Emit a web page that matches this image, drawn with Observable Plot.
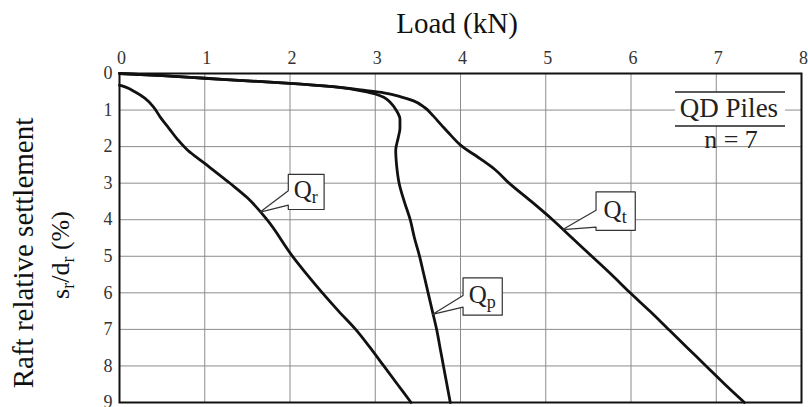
<!DOCTYPE html>
<html>
<head>
<meta charset="utf-8">
<script src="https://cdn.jsdelivr.net/npm/d3@7"></script>
<script src="https://cdn.jsdelivr.net/npm/@observablehq/plot@0.6"></script>
<style>
  body { margin: 0; background: #fff; }
  svg { display: block; }
  #chart svg text { font-family: "Liberation Serif", "DejaVu Serif", "Times New Roman", serif; }
</style>
</head>
<body>
<div id="chart"></div>
<script>
// Axis ticks
const loadTicks = [0, 1, 2, 3, 4, 5, 6, 7, 8];
const settleTicks = [0, 1, 2, 3, 4, 5, 6, 7, 8, 9];

// Total load Qt (kN) vs raft relative settlement sr/dr (%)
const qtLoad   = [0, 0.5, 1.0, 1.5, 2.0, 2.5, 2.9, 3.1, 3.3, 3.45, 3.58, 3.68, 3.78, 3.89, 4.0, 4.23, 4.4, 4.57, 4.83, 5.08, 5.31, 5.54, 5.77, 5.99, 6.22, 6.44, 6.66, 6.88, 7.1, 7.33];
const qtSettle = [0, 0.06, 0.13, 0.2, 0.27, 0.36, 0.47, 0.53, 0.64, 0.75, 0.93, 1.16, 1.42, 1.7, 1.96, 2.33, 2.62, 3.0, 3.5, 4.0, 4.5, 5.0, 5.5, 6.0, 6.5, 7.0, 7.5, 8.0, 8.5, 9.0];

// Pile load Qp
const qpLoad   = [0, 0.5, 1.0, 1.5, 2.0, 2.5, 2.9, 3.0, 3.1, 3.18, 3.25, 3.29, 3.29, 3.27, 3.24, 3.25, 3.28, 3.34, 3.41, 3.46, 3.52, 3.57, 3.62, 3.67, 3.72, 3.76, 3.80, 3.84, 3.88];
const qpSettle = [0, 0.06, 0.13, 0.2, 0.27, 0.36, 0.5, 0.56, 0.65, 0.8, 1.02, 1.25, 1.5, 1.75, 2.1, 2.5, 3.0, 3.5, 4.0, 4.5, 5.0, 5.5, 6.0, 6.5, 7.0, 7.5, 8.0, 8.5, 9.0];

// Raft load Qr
const qrLoad   = [0, 0.08, 0.18, 0.3, 0.4, 0.48, 0.58, 0.68, 0.8, 1.0, 1.3, 1.5, 1.73, 2.03, 2.2, 2.38, 2.57, 2.77, 2.94, 3.10, 3.26, 3.42];
const qrSettle = [0.32, 0.38, 0.5, 0.68, 0.92, 1.2, 1.5, 1.8, 2.1, 2.46, 3.01, 3.4, 4.0, 5.0, 5.5, 6.0, 6.5, 7.0, 7.5, 8.0, 8.5, 9.0];

const curves = [
  {name: "Qt", load: qtLoad, settle: qtSettle},
  {name: "Qp", load: qpLoad, settle: qpSettle},
  {name: "Qr", load: qrLoad, settle: qrSettle}
];
const rows = curves.flatMap(c => c.load.map((v, i) => ({series: c.name, load: v, settle: c.settle[i]})));

// Callout labels: tip on the curve, box extent and tail attachment (data units)
const calloutSub        = ["r", "p", "t"];
const calloutTipLoad    = [1.65, 3.67, 5.20];
const calloutTipSettle  = [3.79, 6.59, 4.27];
const calloutBoxLoad    = [[1.98, 2.40], [4.03, 4.49], [5.59, 6.05]];
const calloutBoxSettle  = [[2.76, 3.72], [5.59, 6.61], [3.24, 4.29]];
const calloutTailSettle = [[3.21, 3.60], [6.07, 6.39], [3.74, 4.20]];

const calloutPaths = calloutSub.flatMap((s, i) => {
  const [x0, x1] = calloutBoxLoad[i];
  const [y0, y1] = calloutBoxSettle[i];
  const [t0, t1] = calloutTailSettle[i];
  return [
    [x0, y0], [x1, y0], [x1, y1], [x0, y1], [x0, t1],
    [calloutTipLoad[i], calloutTipSettle[i]], [x0, t0]
  ].map(([x, y]) => ({id: s, x, y}));
});

const serif = "Liberation Serif, DejaVu Serif, Times New Roman, serif";

const plot = Plot.plot({
  width: 808,
  height: 407,
  marginLeft: 119,
  marginRight: 7,
  marginTop: 73,
  marginBottom: 5,
  style: {fontFamily: serif, background: "#fff"},
  x: {domain: [0, 8], label: null},
  y: {domain: [0, 9], reverse: true, label: null},
  marks: [
    Plot.gridX(loadTicks, {stroke: "#8c8c8c", strokeOpacity: 1, strokeWidth: 1}),
    Plot.gridY(settleTicks, {stroke: "#8c8c8c", strokeOpacity: 1, strokeWidth: 1}),
    Plot.axisX(loadTicks, {anchor: "top", tickSize: 0, tickPadding: 10, fontSize: 18, fill: "#333", dx: 2, label: null}),
    Plot.axisY(settleTicks, {anchor: "left", tickSize: 0, tickPadding: 7, fontSize: 18, fill: "#333", label: null}),
    Plot.line(rows, {x: "load", y: "settle", z: "series", stroke: "#111", strokeWidth: 2.8, strokeLinejoin: "round", curve: "monotone-y"}),
    Plot.line(calloutPaths, {x: "x", y: "y", z: "id", curve: "linear-closed", fill: "#fff", stroke: "#333", strokeWidth: 1.2}),
    Plot.frame({stroke: "#111", strokeWidth: 2})
  ]
});

const svg = d3.select(plot);
const sx = plot.scale("x"), sy = plot.scale("y");

// Callout text: Q with a subscript
calloutSub.forEach((s, i) => {
  const cx = sx.apply((calloutBoxLoad[i][0] + calloutBoxLoad[i][1]) / 2);
  const cy = sy.apply((calloutBoxSettle[i][0] + calloutBoxSettle[i][1]) / 2);
  const t = svg.append("text")
    .attr("x", cx).attr("y", cy + 7)
    .attr("text-anchor", "middle")
    .attr("font-size", 25).attr("fill", "#222");
  t.append("tspan").text("Q");
  t.append("tspan").attr("font-size", 18).attr("dy", 5).text(s);
});

// Title above the top axis
svg.append("text")
  .attr("x", 457).attr("y", 33)
  .attr("text-anchor", "middle")
  .attr("font-size", 29).attr("fill", "#111")
  .text("Load (kN)");

// Vertical axis title, two lines
svg.append("text")
  .attr("transform", "translate(33,253) rotate(-90)")
  .attr("text-anchor", "middle")
  .attr("font-size", 29).attr("fill", "#111")
  .text("Raft relative settlement");

const yl = svg.append("text")
  .attr("transform", "translate(69,255) rotate(-90)")
  .attr("text-anchor", "middle")
  .attr("font-size", 26).attr("fill", "#111");
yl.append("tspan").text("s");
yl.append("tspan").attr("font-size", 18).attr("dy", 5).text("r");
yl.append("tspan").attr("dy", -5).text("/d");
yl.append("tspan").attr("font-size", 18).attr("dy", 5).text("r");
yl.append("tspan").attr("dy", -5).text(" (%)");

// Legend block in the top-right corner of the frame
const lg = svg.append("g");
lg.append("rect").attr("x", 675).attr("y", 92).attr("width", 110).attr("height", 34).attr("fill", "#fff");
lg.append("line").attr("x1", 675).attr("x2", 785).attr("y1", 92).attr("y2", 92).attr("stroke", "#222").attr("stroke-width", 1.5);
lg.append("line").attr("x1", 675).attr("x2", 785).attr("y1", 126).attr("y2", 126).attr("stroke", "#222").attr("stroke-width", 1.5);
lg.append("text").attr("x", 729).attr("y", 117).attr("text-anchor", "middle")
  .attr("font-size", 27).attr("fill", "#222").text("QD Piles");
lg.append("text").attr("x", 731).attr("y", 148).attr("text-anchor", "middle")
  .attr("font-size", 26).attr("fill", "#222").text("n = 7");

document.getElementById("chart").appendChild(plot);
</script>
</body>
</html>
